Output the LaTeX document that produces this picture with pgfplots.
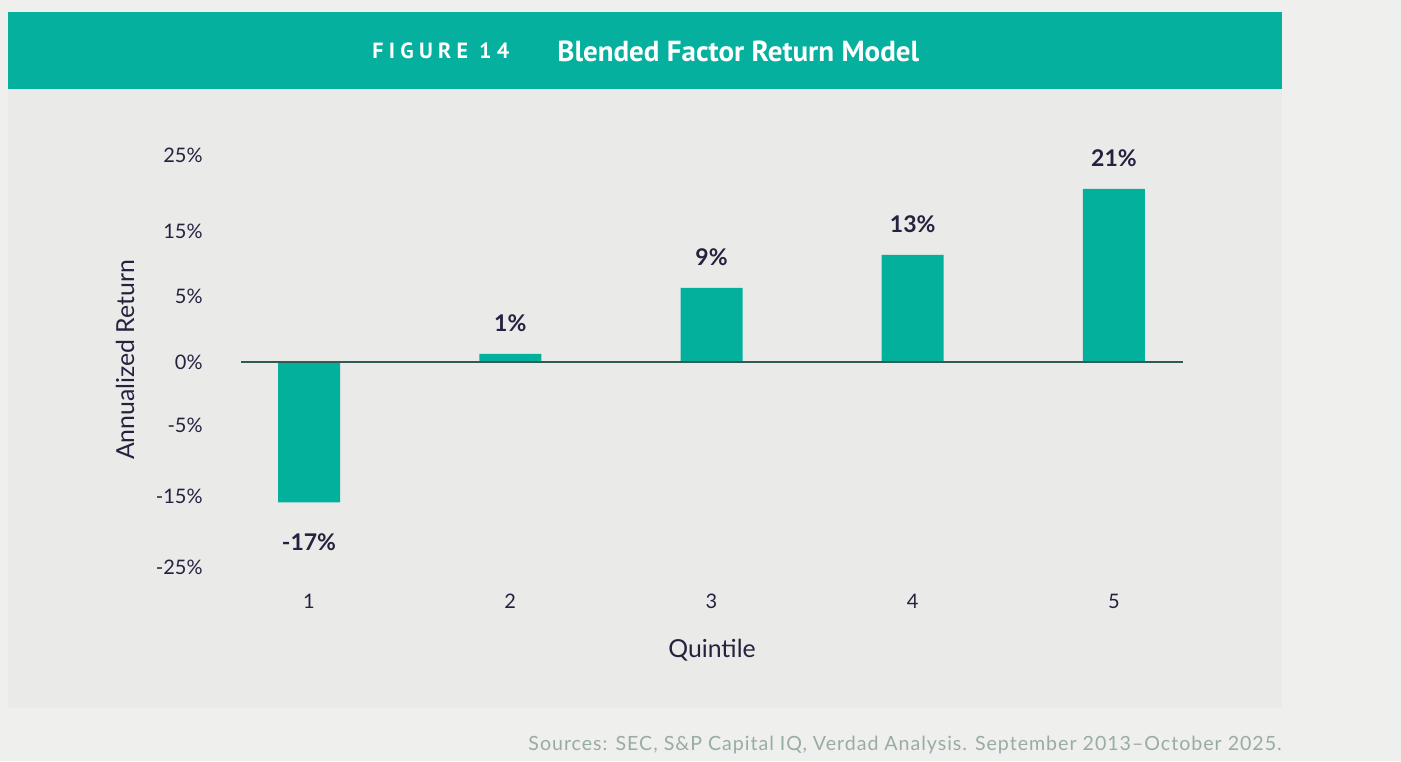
\documentclass[border=0pt]{standalone}
\usepackage{fontspec}
\setmainfont{Lato}
\newfontfamily\headfont{PT Sans}
\usepackage{pgfplots}
\pgfplotsset{compat=1.18}

\definecolor{outerbg}{HTML}{EFEFED}
\definecolor{panelbg}{HTML}{EAEAE8}
\definecolor{tealhead}{HTML}{05B19E}
\definecolor{barc}{HTML}{03B09B}
\definecolor{zeroc}{HTML}{2E5B53}
\definecolor{textc}{HTML}{24223F}
\definecolor{srcc}{HTML}{98ACA5}

\begin{document}
\begin{tikzpicture}[x=0.5pt,y=0.5pt]
  % page, panel and header band (pixel units, y up)
  \fill[outerbg] (0,0) rectangle (1401,761);
  \fill[panelbg] (8,53.3) rectangle (1282,672);
  \fill[tealhead] (8,672) rectangle (1282,749);
  \node[anchor=west, inner sep=0pt, text=white,
        font=\headfont\bfseries\fontsize{11}{13}\selectfont\addfontfeature{LetterSpace=24}]
        at (372,710) {FIGURE 14};
  \node[anchor=west, inner sep=0pt, text=white,
        font=\headfont\bfseries\fontsize{14.5}{17}\selectfont]
        at (557,710) {Blended Factor Return Model};
  \node[anchor=base east, inner sep=0pt, text=srcc,
        font=\fontsize{9.8}{12}\selectfont\addfontfeature{LetterSpace=5}]
        at (1282,11) {Sources: SEC, S\&P Capital IQ, Verdad Analysis. September 2013–October 2025.};

  \begin{axis}[
      at={(120.5pt,92.25pt)}, anchor=south west,
      scale only axis,
      width=471pt, height=214.5pt,
      xmin=0.662, xmax=5.343,
      ymin=-26, ymax=26,
      clip=false,
      axis line style={draw=none},
      major tick length=0pt,
      xtick={1,2,3,4,5},
      xticklabels={1,2,3,4,5},
      ytick={-24.85,-16.24,-7.64,0,8,15.88,25.09},
      yticklabels={-25\%,-15\%,-5\%,0\%,5\%,15\%,25\%},
      tick label style={font=\fontsize{10}{12}\selectfont, text=textc, inner sep=0pt},
      yticklabel style={anchor=east, xshift=-19pt},
      xticklabel style={anchor=north, yshift=-8.5pt},
      xlabel={Quintile},
      ylabel={Annualized Return},
      label style={font=\fontsize{12.4}{14}\selectfont, text=textc},
      xlabel style={at={(axis description cs:0.5,-0.171)}, anchor=center},
      ylabel style={at={(axis description cs:-0.123,0.505)}, anchor=center},
      ybar, bar width=31pt,
      point meta=explicit symbolic,
      nodes near coords={\pgfplotspointmeta},
      visualization depends on=rawy \as \rawy,
      every node near coord/.append style={
          font=\bfseries\fontsize{11.5}{14}\selectfont, text=textc, inner sep=0pt,
          anchor=south, yshift={ifthenelse(\rawy<0,-24.5,11)}},
    ]
    \addplot[fill=barc, draw=none] coordinates {
      (1,-17) [-17\%]
      (2,1)   [1\%]
      (3,9)   [9\%]
      (4,13)  [13\%]
      (5,21)  [21\%]
    };
    \draw[zeroc, line width=1pt] (axis cs:0.662,0) -- (axis cs:5.343,0);
  \end{axis}
\end{tikzpicture}
\end{document}
